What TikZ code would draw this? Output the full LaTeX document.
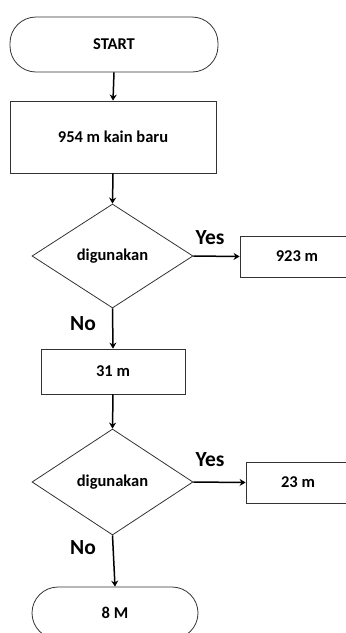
\documentclass[tikz,border=0pt]{standalone}
\usepackage{fontspec}
\setmainfont{Carlito}
\usetikzlibrary{shapes.geometric,arrows.meta}
\begin{document}
\begin{tikzpicture}[x=1pt,y=-1pt,
  base/.style={draw=black!80,line width=0.8pt,font=\bfseries\fontsize{16.5}{18}\selectfont,inner sep=0pt},
  term/.style={base,rounded corners=26pt},
  procbox/.style={base,rectangle},
  decide/.style={base,diamond},
  lbl/.style={font=\bfseries\fontsize{21.5}{24}\selectfont,inner sep=0pt},
  arr/.style={line width=1.5pt,-{Stealth[length=6pt,width=7pt]}}]
\useasboundingbox (0,0) rectangle (346,633);
\clip (0,0) rectangle (346,633);
\node[term,minimum width=208pt,minimum height=55pt] (start) at (114,44.5) {START};
\node[procbox,minimum width=206pt,minimum height=72pt] (kain) at (113,137) {954 m kain baru};
\node[decide,minimum width=161pt,minimum height=104pt] (d1) at (112.5,256) {digunakan};
\node[procbox,minimum width=114pt,minimum height=41pt] (b923) at (297,256.5) {923 m};
\node[procbox,minimum width=144pt,minimum height=45pt] (b31) at (113,371.5) {31 m};
\node[decide,minimum width=161pt,minimum height=106pt] (d2) at (112.5,482) {digunakan};
\node[procbox,minimum width=104pt,minimum height=41pt] (b23) at (298,482.5) {23 m};
\node[term,minimum width=166pt,minimum height=52pt] (end) at (115,613) {8 M};
\node[lbl] (y1) at (210,238) {Yes};
\node[lbl] (n1) at (83,324) {No};
\node[lbl] (y2) at (210,460) {Yes};
\node[lbl] (n2) at (83,548) {No};
\draw[arr] (start.south) -- (kain.north);
\draw[arr] (kain.south) -- (d1.north);
\draw[arr] (d1.south) -- (b31.north);
\draw[arr] (b31.south) -- (d2.north);
\draw[arr] (d2.south) -- (end.north);
\draw[arr] (d1.east) -- (b923.west);
\draw[arr] (d2.east) -- (b23.west);
\end{tikzpicture}
\end{document}
